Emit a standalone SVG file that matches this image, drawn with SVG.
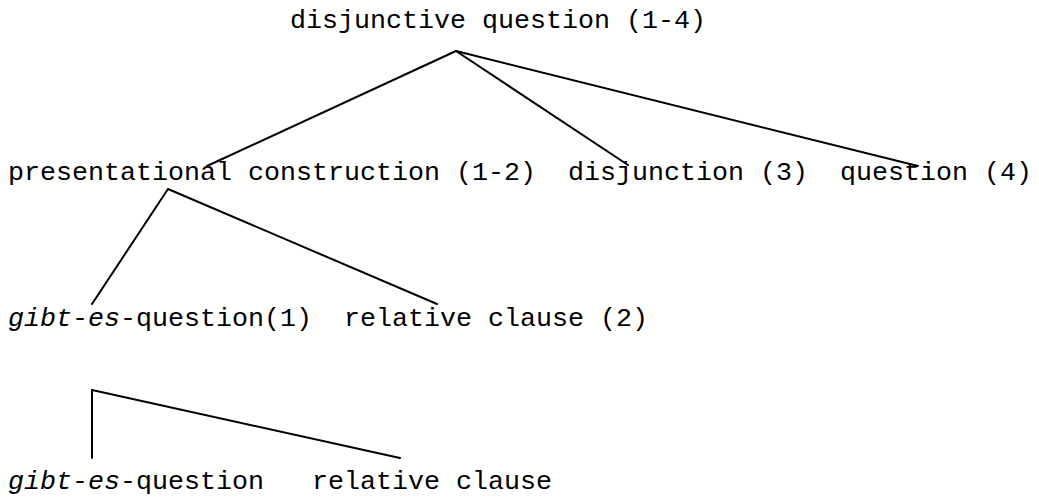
<svg xmlns="http://www.w3.org/2000/svg" width="1039" height="497" viewBox="0 0 1039 497">
<style>
text{font-family:"Liberation Mono","Courier New",monospace;font-size:26.67px;fill:#000;white-space:pre}
.i{font-style:italic}
.c line{stroke:#000;stroke-width:2;stroke-linecap:round}
</style>
<rect width="1039" height="497" fill="#fff"/>
<g class="c" id="connectors">
<line x1="456" y1="51" x2="207" y2="166"/>
<line x1="456" y1="51" x2="628" y2="165"/>
<line x1="456" y1="51" x2="918" y2="166"/>
<line x1="168" y1="189" x2="92" y2="304"/>
<line x1="168" y1="189" x2="437" y2="304"/>
<line x1="92" y1="390" x2="92" y2="458"/>
<line x1="92" y1="390" x2="400" y2="458"/>
</g>
<g id="n-root"><text x="290" y="28">disjunctive question (1-4)</text></g>
<g id="n-pres"><text x="8" y="180">presentational construction (1-2)</text></g>
<g id="n-disj"><text x="568" y="180">disjunction (3)</text></g>
<g id="n-q"><text x="840" y="180">question (4)</text></g>
<g id="n-gibt1"><text x="8" y="326"><tspan class="i">gibt</tspan>-<tspan class="i">es</tspan>-question(1)</text></g>
<g id="n-rel2"><text x="344" y="326">relative clause (2)</text></g>
<g id="n-gibt"><text x="8" y="489"><tspan class="i">gibt</tspan>-<tspan class="i">es</tspan>-question</text></g>
<g id="n-rel"><text x="312" y="489">relative clause</text></g>
</svg>
